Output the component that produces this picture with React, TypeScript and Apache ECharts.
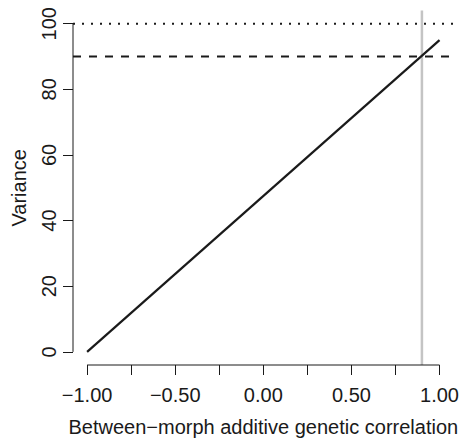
import React, { useEffect, useRef } from "react";
import * as echarts from "echarts";

const mainLine: [number, number][] = [
  [-1, 0],
  [1, 95],
];
const dottedLevel = 100;
const dashedLevel = 90;
const verticalX = 0.9;
const xTicks = [-1, -0.75, -0.5, -0.25, 0, 0.25, 0.5, 0.75, 1];
const xLabels = [-1, -0.5, 0, 0.5, 1];
const yTicks = [0, 20, 40, 60, 80, 100];
const xRange: [number, number] = [-1.08, 1.08];
const yRange: [number, number] = [-4, 104];

const FONT = "'Liberation Sans', Arial, Helvetica, sans-serif";
const INK = "#1a1a1a";

export default function App() {
  const ref = useRef<HTMLDivElement>(null);
  useEffect(() => {
    if (!ref.current) return;
    const chart = echarts.init(ref.current, undefined, { renderer: "svg" });
    const noSym = { symbol: "none", silent: true } as const;
    chart.setOption({
      animation: false,
      backgroundColor: "#ffffff",
      grid: { left: 73, right: 8, top: 10.6, bottom: 70.2, containLabel: false },
      xAxis: {
        type: "value",
        min: xRange[0],
        max: xRange[1],
        splitLine: { show: false },
        axisLine: { show: false, onZero: false },
        axisTick: {
          show: true,
          customValues: xTicks,
          length: 10,
          lineStyle: { color: INK, width: 1 },
        },
        axisLabel: {
          show: true,
          customValues: xLabels,
          margin: 20,
          fontSize: 20,
          fontFamily: FONT,
          color: INK,
          formatter: (v: number) => v.toFixed(2).replace("-", "\u2212"),
        },
        name: "Between\u2212morph additive genetic correlation",
        nameLocation: "middle",
        nameGap: 52,
        nameTextStyle: { fontSize: 20, fontFamily: FONT, color: INK },
      },
      yAxis: {
        type: "value",
        min: yRange[0],
        max: yRange[1],
        splitLine: { show: false },
        axisLine: { show: false, onZero: false },
        axisTick: {
          show: true,
          customValues: yTicks,
          length: 10,
          lineStyle: { color: INK, width: 1 },
        },
        axisLabel: {
          show: true,
          customValues: yTicks,
          rotate: 90,
          margin: 14,
          fontSize: 20,
          fontFamily: FONT,
          color: INK,
        },
        name: "Variance",
        nameLocation: "middle",
        nameGap: 44,
        nameTextStyle: { fontSize: 20, fontFamily: FONT, color: INK },
      },
      series: [
        {
          type: "line",
          ...noSym,
          clip: false,
          data: [
            [verticalX, yRange[0]],
            [verticalX, yRange[1]],
          ],
          lineStyle: { color: "#c4c4c4", width: 2.5 },
        },
        {
          type: "line",
          ...noSym,
          clip: false,
          data: [
            [xRange[0], dottedLevel],
            [xRange[1], dottedLevel],
          ],
          lineStyle: { color: INK, width: 2, type: [2, 7] },
        },
        {
          type: "line",
          ...noSym,
          clip: false,
          data: [
            [xRange[0], dashedLevel],
            [xRange[1], dashedLevel],
          ],
          lineStyle: { color: INK, width: 2, type: [8, 8] },
        },
        {
          type: "line",
          ...noSym,
          clip: false,
          data: mainLine,
          lineStyle: { color: INK, width: 2.2 },
        },
        {
          type: "line",
          ...noSym,
          clip: false,
          data: [
            [xTicks[0], yRange[0]],
            [xTicks[xTicks.length - 1], yRange[0]],
          ],
          lineStyle: { color: INK, width: 1 },
        },
        {
          type: "line",
          ...noSym,
          clip: false,
          data: [
            [xRange[0], yTicks[0]],
            [xRange[0], yTicks[yTicks.length - 1]],
          ],
          lineStyle: { color: INK, width: 1 },
        },
      ],
    });
    return () => chart.dispose();
  }, []);
  return (
    <div
      ref={ref}
      style={{ position: "absolute", left: 0, top: 0, width: 462, height: 442 }}
    />
  );
}
